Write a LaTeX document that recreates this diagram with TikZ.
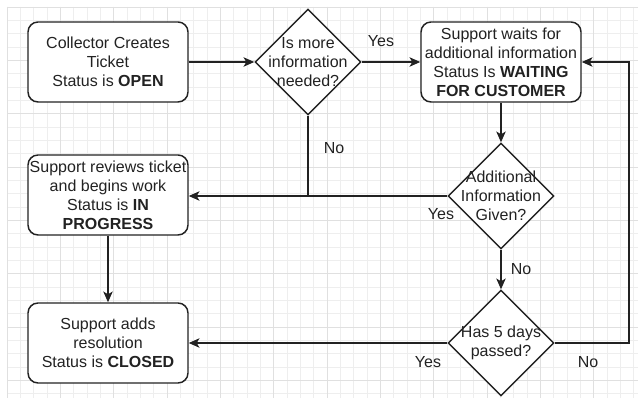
\documentclass[tikz,border=0pt]{standalone}
\usepackage{fontspec}
\setmainfont{Liberation Sans}
\usetikzlibrary{shapes.geometric,arrows.meta}
\definecolor{ink}{HTML}{222222}
\definecolor{gridminor}{HTML}{EEEEEE}
\definecolor{gridmajor}{HTML}{E0E0E0}
\begin{document}
\begin{tikzpicture}[x=0.75pt,y=-0.75pt,
  every node/.style={font=\fontsize{12}{14.25}\selectfont, text=ink},
  procbox/.style={draw=ink, line width=1.1pt, rounded corners=7.5pt, minimum width=120pt, minimum height=60pt, inner sep=0pt, align=center},
  decision/.style={draw=ink, line width=1.1pt, diamond, aspect=1, minimum width=79.5pt, minimum height=79.5pt, inner sep=0pt},
  dtext/.style={align=center, inner sep=0pt},
  lbl/.style={inner sep=0pt},
  conn/.style={draw=ink, line width=1.1pt},
  arr/.style={conn, -{Stealth[length=8pt,width=7pt,inset=2pt]}}
]
\useasboundingbox (0,0) rectangle (638,398);
\fill[white] (0,0) rectangle (638,398);
% grid
\foreach \i in {0,...,47} {
  \pgfmathsetmacro\xx{7+\i*13.33}
  \draw[gridminor, line width=0.5pt] (\xx,7) -- (\xx,398);
}
\foreach \j in {0,...,29} {
  \pgfmathsetmacro\yy{7+\j*13.33}
  \draw[gridminor, line width=0.5pt] (7,\yy) -- (638,\yy);
}
\foreach \i in {0,...,11} {
  \pgfmathsetmacro\xx{7+\i*53.33}
  \draw[gridmajor, line width=0.6pt] (\xx,7) -- (\xx,398);
}
\foreach \j in {0,...,7} {
  \pgfmathsetmacro\yy{7+\j*53.33}
  \draw[gridmajor, line width=0.6pt] (7,\yy) -- (638,\yy);
}

% nodes
\node[procbox, fill=white] (b1) at (108,62) {Collector Creates\\Ticket\\Status is \textbf{OPEN}};
\node[procbox, fill=white] (b2) at (501,62) {Support waits for\\additional information\\Status Is \textbf{WAITING}\\\textbf{FOR CUSTOMER}};
\node[procbox, fill=white] (b3) at (108,195) {Support reviews ticket\\and begins work\\Status is \textbf{IN}\\\textbf{PROGRESS}};
\node[procbox, fill=white] (b4) at (108,343) {Support adds\\resolution\\Status is \textbf{CLOSED}};

\node[decision, fill=white] (d1) at (308,62) {};
\node[dtext] (t1) at (308,62) {Is more\\information\\needed?};
\node[decision, fill=white] (d2) at (501,196) {};
\node[dtext] (t2) at (501,196) {Additional\\Information\\Given?};
\node[decision, fill=white] (d3) at (501,343) {};
\node[dtext] (t3) at (501,343) {Has 5 days\\passed?};

\coordinate (loop) at (629,343);

% connectors
\draw[arr] (b1.east) -- (d1.west);
\draw[arr] (d1.east) -- (b2.west);
\draw[arr] (b2.south) -- (d2.north);
\draw[arr] (d2.west) -- (d2.west -| b3.east);
\draw[conn] (d1.south) -- (d1.south |- d2.west);
\draw[arr] (d2.south) -- (d3.north);
\draw[arr] (d3.west) -- (b4.east);
\draw[arr] (d3.east) -- (loop) |- (b2.east);
\draw[arr] (b3.south) -- (b4.north);

% labels
\node[lbl] (l1) at (381,41) {Yes};
\node[lbl] (l2) at (334,148) {No};
\node[lbl] (l3) at (441,214) {Yes};
\node[lbl] (l4) at (521,269) {No};
\node[lbl] (l5) at (428,362) {Yes};
\node[lbl] (l6) at (588,362) {No};
\end{tikzpicture}
\end{document}
